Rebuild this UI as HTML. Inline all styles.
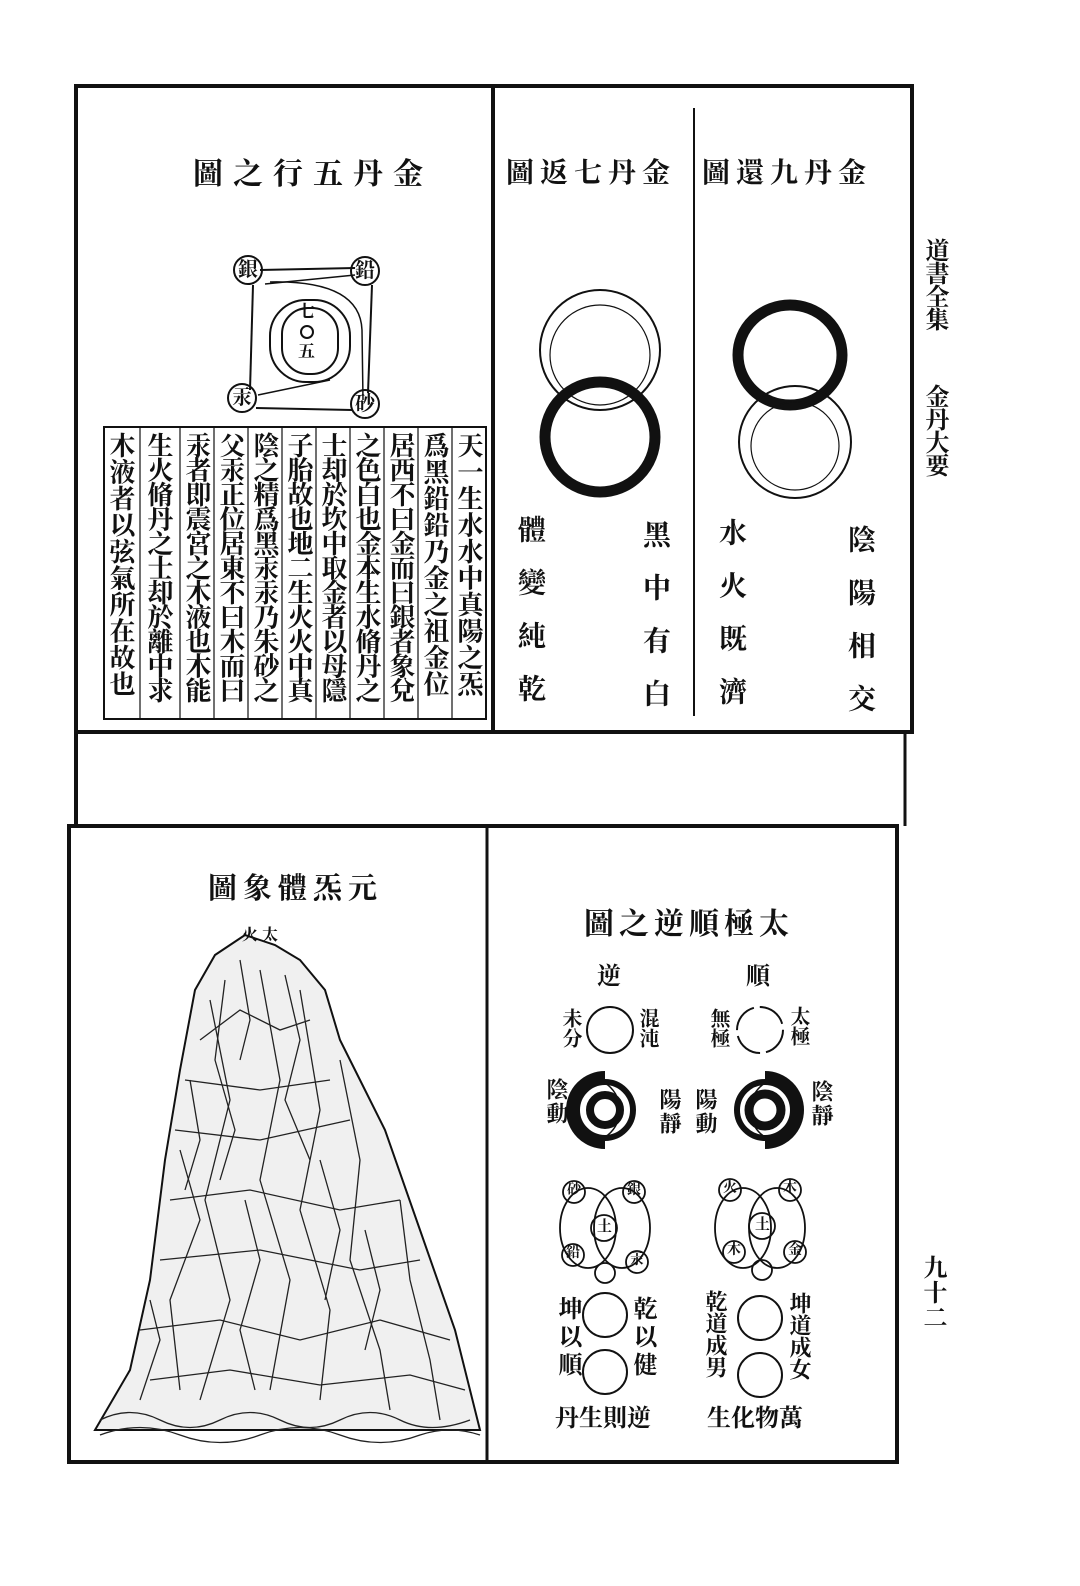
<!DOCTYPE html>
<html><head><meta charset="utf-8"><style>
body{margin:0;background:#fff;}
#p{position:relative;width:1080px;height:1586px;overflow:hidden;background:#fff;font-family:"Liberation Serif","Noto Serif CJK SC","Noto Sans CJK TC",serif;color:#111;}
.t{position:absolute;white-space:nowrap;line-height:1;font-weight:bold;}
.v{position:absolute;writing-mode:vertical-rl;line-height:1;white-space:nowrap;font-weight:bold;}
svg{position:absolute;left:0;top:0;}
</style></head><body><div id="p">
<svg width="1080" height="1586" viewBox="0 0 1080 1586">
<g fill="none" stroke="#111">
<rect x="76" y="86" width="836" height="646" stroke-width="4"/>
<line x1="493" y1="88" x2="493" y2="732" stroke-width="4"/>
<line x1="694" y1="108" x2="694" y2="716" stroke-width="2"/>
<line x1="76" y1="732" x2="76" y2="826" stroke-width="4"/>
<line x1="905" y1="732" x2="905" y2="826" stroke-width="3"/>
<rect x="69" y="826" width="828" height="636" stroke-width="4"/>
<line x1="487" y1="826" x2="487" y2="1462" stroke-width="3"/>
<line x1="260" y1="270" x2="355" y2="268" stroke-width="2"/>
<line x1="253" y1="285" x2="250" y2="390" stroke-width="2"/>
<line x1="372" y1="285" x2="368" y2="393" stroke-width="2"/>
<line x1="256" y1="408" x2="352" y2="410" stroke-width="2"/>
<line x1="265" y1="284" x2="355" y2="275" stroke-width="1.5"/>
<line x1="258" y1="395" x2="330" y2="380" stroke-width="1.5"/>
<path d="M270 282 Q360 280 362 330 L363 400" stroke-width="1.5"/>
<rect x="270" y="300" width="80" height="82" rx="36" stroke-width="2"/>
<rect x="282" y="308" width="56" height="66" rx="26" stroke-width="2"/>
<circle cx="307" cy="332" r="6" stroke-width="2"/>
<circle cx="248" cy="270" r="14" stroke-width="2"/>
<circle cx="365" cy="271" r="14" stroke-width="2"/>
<circle cx="242" cy="398" r="14" stroke-width="2"/>
<circle cx="365" cy="404" r="14" stroke-width="2"/>
<rect x="104" y="427" width="382" height="292" stroke-width="2"/>
<g stroke-width="1.2">
<line x1="452" y1="427" x2="452" y2="719"/><line x1="418" y1="427" x2="418" y2="719"/>
<line x1="384" y1="427" x2="384" y2="719"/><line x1="350" y1="427" x2="350" y2="719"/>
<line x1="316" y1="427" x2="316" y2="719"/><line x1="282" y1="427" x2="282" y2="719"/>
<line x1="248" y1="427" x2="248" y2="719"/><line x1="214" y1="427" x2="214" y2="719"/>
<line x1="180" y1="427" x2="180" y2="719"/><line x1="140" y1="427" x2="140" y2="719"/>
</g>
<circle cx="600" cy="350" r="60" stroke-width="2"/>
<circle cx="600" cy="355" r="50" stroke-width="1.2"/>
<circle cx="600" cy="437" r="55" stroke-width="11"/>
<ellipse cx="790" cy="355" rx="52" ry="50" stroke-width="11"/>
<circle cx="795" cy="442" r="56" stroke-width="2"/>
<circle cx="795" cy="446" r="44" stroke-width="1.2"/>
<circle cx="610" cy="1030" r="23" stroke-width="2"/>
<circle cx="760" cy="1030" r="23" stroke-width="2" stroke-dasharray="30 6"/>
<circle cx="605" cy="1110" r="32" stroke-width="14"/>
<circle cx="605" cy="1110" r="15" stroke-width="8"/>
<circle cx="765" cy="1110" r="32" stroke-width="14"/>
<circle cx="765" cy="1110" r="16" stroke-width="9"/>
<path d="M605 1070 A40 40 0 0 1 605 1150" stroke="#fff" stroke-width="18"/>
<path d="M605 1083 A32 32 0 0 1 605 1137" stroke="#111" stroke-width="1.5"/>
<path d="M765 1070 A40 40 0 0 0 765 1150" stroke="#fff" stroke-width="18"/>
<path d="M765 1083 A32 32 0 0 0 765 1137" stroke="#111" stroke-width="1.5"/>
<g stroke-width="1.8">
<ellipse cx="588" cy="1228" rx="28" ry="40"/><ellipse cx="622" cy="1228" rx="28" ry="40"/>
<circle cx="604" cy="1228" r="13"/>
<circle cx="574" cy="1192" r="11"/><circle cx="634" cy="1192" r="11"/>
<circle cx="573" cy="1255" r="11"/><circle cx="637" cy="1262" r="11"/>
<circle cx="605" cy="1273" r="10"/>
<ellipse cx="743" cy="1228" rx="28" ry="40"/><ellipse cx="777" cy="1228" rx="28" ry="40"/>
<circle cx="762" cy="1226" r="13"/>
<circle cx="730" cy="1190" r="11"/><circle cx="790" cy="1190" r="11"/>
<circle cx="734" cy="1252" r="11"/><circle cx="795" cy="1252" r="11"/>
<circle cx="762" cy="1270" r="10"/>
</g>
<circle cx="605" cy="1315" r="22" stroke-width="2"/>
<circle cx="605" cy="1372" r="22" stroke-width="2"/>
<circle cx="760" cy="1318" r="22" stroke-width="2"/>
<circle cx="760" cy="1375" r="22" stroke-width="2"/>
<!-- mountain -->
<path d="M95 1430 L130 1370 L150 1280 L165 1160 L180 1070 L195 990 L215 955 L245 935 L275 945 L300 960 L325 990 L340 1040 L360 1080 L385 1130 L420 1230 L455 1330 L480 1430 Z" fill="#f0f0f0" stroke-width="2"/>
<g stroke="#222" stroke-width="1.3">
<path d="M210 1000 L230 1100 L205 1200 L230 1300 L200 1400"/>
<path d="M260 970 L280 1080 L260 1180 L290 1280 L270 1390"/>
<path d="M300 990 L320 1110 L300 1210 L330 1310 L320 1400"/>
<path d="M340 1060 L360 1160 L350 1260 L380 1350 L390 1410"/>
<path d="M180 1150 L200 1220 L170 1300 L180 1390"/>
<path d="M400 1200 L410 1280 L430 1360 L440 1420"/>
<path d="M150 1300 L160 1340 L140 1400"/>
<path d="M240 960 L250 1020 L240 1060"/>
<path d="M225 980 L215 1060 L235 1130 L220 1180"/>
<path d="M285 975 L300 1040 L285 1100 L310 1160"/>
<path d="M190 1080 L200 1140 L185 1190"/>
<path d="M320 1160 L340 1230 L325 1300"/>
<path d="M245 1200 L260 1260 L240 1330 L255 1390"/>
<path d="M365 1230 L380 1290 L365 1350"/>
<path d="M185 1080 L260 1090 L330 1080"/>
<path d="M170 1200 L250 1190 L340 1210 L400 1200"/>
<path d="M140 1330 L220 1320 L300 1340 L380 1320 L450 1340"/>
<path d="M200 1040 L240 1010 L280 1030 L310 1020"/>
<path d="M160 1260 L260 1250 L360 1270 L420 1260"/>
<path d="M175 1130 L260 1140 L350 1120"/>
<path d="M150 1380 L230 1370 L320 1385 L410 1375 L465 1390"/>
<path d="M100 1420 Q130 1405 160 1420 Q190 1435 220 1420 Q250 1405 280 1420 Q310 1435 340 1420 Q370 1405 400 1420 Q430 1435 470 1420"/>
<path d="M100 1435 Q140 1420 180 1435 Q220 1450 260 1435 Q300 1420 340 1435 Q380 1450 420 1435 Q450 1425 480 1435"/>
</g>
</g>
</svg>

<div class="t" style="left:193px;top:160px;font-size:30px;letter-spacing:10px">圖之行五丹金</div>
<div class="t" style="left:506px;top:160px;font-size:28px;letter-spacing:6px">圖返七丹金</div>
<div class="t" style="left:702px;top:160px;font-size:28px;letter-spacing:6px">圖還九丹金</div>
<div class="t" style="left:208px;top:875px;font-size:29px;letter-spacing:6px">圖象體炁元</div>
<div class="t" style="left:584px;top:910px;font-size:30px;letter-spacing:5px">圖之逆順極太</div>

<div class="t" style="left:238px;top:260px;font-size:20px">銀</div>
<div class="t" style="left:355px;top:261px;font-size:20px">鉛</div>
<div class="t" style="left:232px;top:388px;font-size:20px">汞</div>
<div class="t" style="left:355px;top:394px;font-size:20px">砂</div>
<div class="t" style="left:298px;top:303px;font-size:17px">七</div>
<div class="t" style="left:298px;top:343px;font-size:17px">五</div>

<div class="v" style="left:455px;top:432px;font-size:26px;letter-spacing:0.5px">天一生水水中真陽之炁</div>
<div class="v" style="left:421px;top:432px;font-size:26px;letter-spacing:0.5px">爲黑鉛鉛乃金之祖金位</div>
<div class="v" style="left:387px;top:432px;font-size:26px;letter-spacing:-1.5px">居西不曰金而曰銀者象兌</div>
<div class="v" style="left:353px;top:432px;font-size:26px;letter-spacing:-1.5px">之色白也金本生水脩丹之</div>
<div class="v" style="left:319px;top:432px;font-size:26px;letter-spacing:-1.5px">士却於坎中取金者以母隱</div>
<div class="v" style="left:285px;top:432px;font-size:26px;letter-spacing:-1.5px">子胎故也地二生火火中真</div>
<div class="v" style="left:251px;top:432px;font-size:26px;letter-spacing:-1.5px">陰之精爲黑汞汞乃朱砂之</div>
<div class="v" style="left:217px;top:432px;font-size:26px;letter-spacing:-1.5px">父汞正位居東不曰木而曰</div>
<div class="v" style="left:183px;top:432px;font-size:26px;letter-spacing:-1.5px">汞者即震宮之木液也木能</div>
<div class="v" style="left:145px;top:432px;font-size:26px;letter-spacing:-1.5px">生火脩丹之士却於離中求</div>
<div class="v" style="left:107px;top:432px;font-size:26px;letter-spacing:0.5px">木液者以弦氣所在故也</div>

<div class="v" style="left:640px;top:520px;font-size:28px;letter-spacing:25px">黑中有白</div>
<div class="v" style="left:515px;top:515px;font-size:28px;letter-spacing:25px">體變純乾</div>
<div class="v" style="left:845px;top:525px;font-size:28px;letter-spacing:25px">陰陽相交</div>
<div class="v" style="left:716px;top:518px;font-size:28px;letter-spacing:25px">水火既濟</div>

<div class="t" style="left:597px;top:965px;font-size:24px">逆</div>
<div class="t" style="left:746px;top:965px;font-size:24px">順</div>
<div class="v" style="left:560px;top:1008px;font-size:20px">未分</div>
<div class="v" style="left:637px;top:1008px;font-size:20px">混沌</div>
<div class="v" style="left:708px;top:1008px;font-size:20px">無極</div>
<div class="v" style="left:788px;top:1006px;font-size:20px">太極</div>
<div class="v" style="left:545px;top:1078px;font-size:22px;letter-spacing:2px">陰動</div>
<div class="v" style="left:658px;top:1088px;font-size:22px;letter-spacing:2px">陽靜</div>
<div class="v" style="left:694px;top:1088px;font-size:22px;letter-spacing:2px">陽動</div>
<div class="v" style="left:810px;top:1080px;font-size:22px;letter-spacing:2px">陰靜</div>
<div class="t" style="left:567px;top:1184px;font-size:14px">砂</div>
<div class="t" style="left:627px;top:1184px;font-size:14px">銀</div>
<div class="t" style="left:597px;top:1220px;font-size:15px">土</div>
<div class="t" style="left:566px;top:1247px;font-size:14px">鉛</div>
<div class="t" style="left:630px;top:1254px;font-size:14px">汞</div>
<div class="t" style="left:723px;top:1182px;font-size:14px">火</div>
<div class="t" style="left:783px;top:1182px;font-size:14px">木</div>
<div class="t" style="left:755px;top:1218px;font-size:15px">土</div>
<div class="t" style="left:727px;top:1244px;font-size:14px">木</div>
<div class="t" style="left:788px;top:1244px;font-size:14px">金</div>
<div class="v" style="left:555px;top:1296px;font-size:24px;letter-spacing:4px">坤以順</div>
<div class="v" style="left:630px;top:1296px;font-size:24px;letter-spacing:4px">乾以健</div>
<div class="v" style="left:704px;top:1290px;font-size:22px">乾道成男</div>
<div class="v" style="left:788px;top:1292px;font-size:22px">坤道成女</div>
<div class="t" style="left:555px;top:1407px;font-size:24px">丹生則逆</div>
<div class="t" style="left:707px;top:1407px;font-size:24px">生化物萬</div>

<div class="t" style="left:242px;top:928px;font-size:16px">火 太</div>

<div class="v" style="left:922px;top:238px;font-size:24px;letter-spacing:-1px">道書全集</div>
<div class="v" style="left:922px;top:384px;font-size:24px;letter-spacing:-1px">金丹大要</div>
<div class="v" style="left:920px;top:1255px;font-size:24px;letter-spacing:1px">九十二</div>
</div></body></html>
